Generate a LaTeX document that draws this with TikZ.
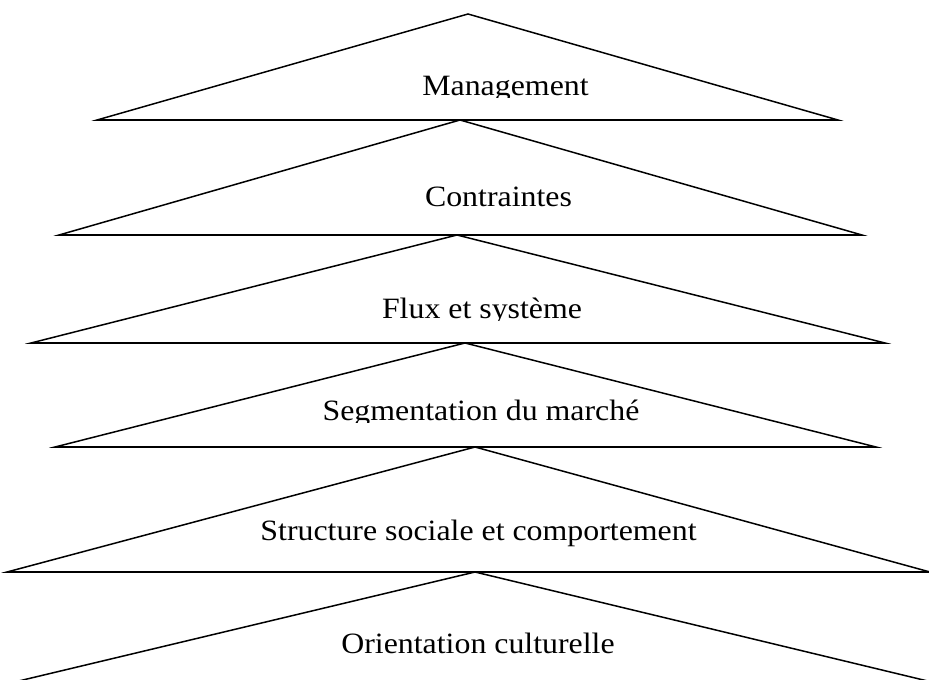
\documentclass[tikz,border=0pt]{standalone}
\usepackage{fontspec}
\setmainfont{Liberation Serif}
\begin{document}
\begin{tikzpicture}[x=1pt,y=-1pt,
  tri/.style={draw=black,line width=1.5pt,line join=miter,fill=white},
  baseline rule/.style={line width=1.5pt},
  lbl/.style={anchor=base,inner sep=0pt,font=\fontsize{29.5}{34}\selectfont}]
\useasboundingbox (0,0) rectangle (929,680);
\clip (0,0) rectangle (929,680);

% corners of the stacked triangles: apex (t), base left (l), base right (r)
\coordinate (t1) at (468,14);  \coordinate (l1) at (97,120);  \coordinate (r1) at (838,120);
\coordinate (t2) at (460,120); \coordinate (l2) at (59,235);  \coordinate (r2) at (862,235);
\coordinate (t3) at (457,235); \coordinate (l3) at (31,343);  \coordinate (r3) at (885,343);
\coordinate (t4) at (465,343); \coordinate (l4) at (55,447);  \coordinate (r4) at (876,447);
\coordinate (t5) at (475,447); \coordinate (l5) at (7,572);   \coordinate (r5) at (930,572);
\coordinate (t6) at (475,572); \coordinate (l6) at (-19,690); \coordinate (r6) at (965,690);

% lower triangles are drawn first so that each upper base line sits on top
\draw[tri] (t6) -- (l6) -- (r6) -- cycle;
\draw[tri] (t5) -- (l5) -- (r5) -- cycle;
\draw[tri] (t4) -- (l4) -- (r4) -- cycle;
\draw[tri] (t3) -- (l3) -- (r3) -- cycle;
\draw[tri] (t2) -- (l2) -- (r2) -- cycle;
\draw[tri] (t1) -- (l1) -- (r1) -- cycle;
% redraw the base lines over the apexes below them
\draw[baseline rule] (l1) -- (r1);
\draw[baseline rule] (l2) -- (r2);
\draw[baseline rule] (l3) -- (r3);
\draw[baseline rule] (l4) -- (r4);
\draw[baseline rule] (l5) -- (r5);

% labels; their text boxes cut the descenders just under the baseline
\begin{scope}
  \clip (0,0) rectangle (929,97);
  \node[lbl] (m) at (505.5,95) {\scalebox{1.08}[1]{Management}};
\end{scope}
\node[lbl] (c) at (498.5,206.5) {\scalebox{1.08}[1]{Contraintes}};
\begin{scope}
  \clip (0,236) rectangle (929,320);
  \node[lbl] (f) at (482,318) {\scalebox{1.08}[1]{Flux et système}};
\end{scope}
\begin{scope}
  \clip (0,344) rectangle (929,422);
  \node[lbl] (s) at (481,420) {\scalebox{1.08}[1]{Segmentation du marché}};
\end{scope}
\node[lbl] (sc) at (478.5,540) {\scalebox{1.08}[1]{Structure sociale et comportement}};
\node[lbl] (o) at (478,653) {\scalebox{1.08}[1]{Orientation culturelle}};
\end{tikzpicture}
\end{document}
